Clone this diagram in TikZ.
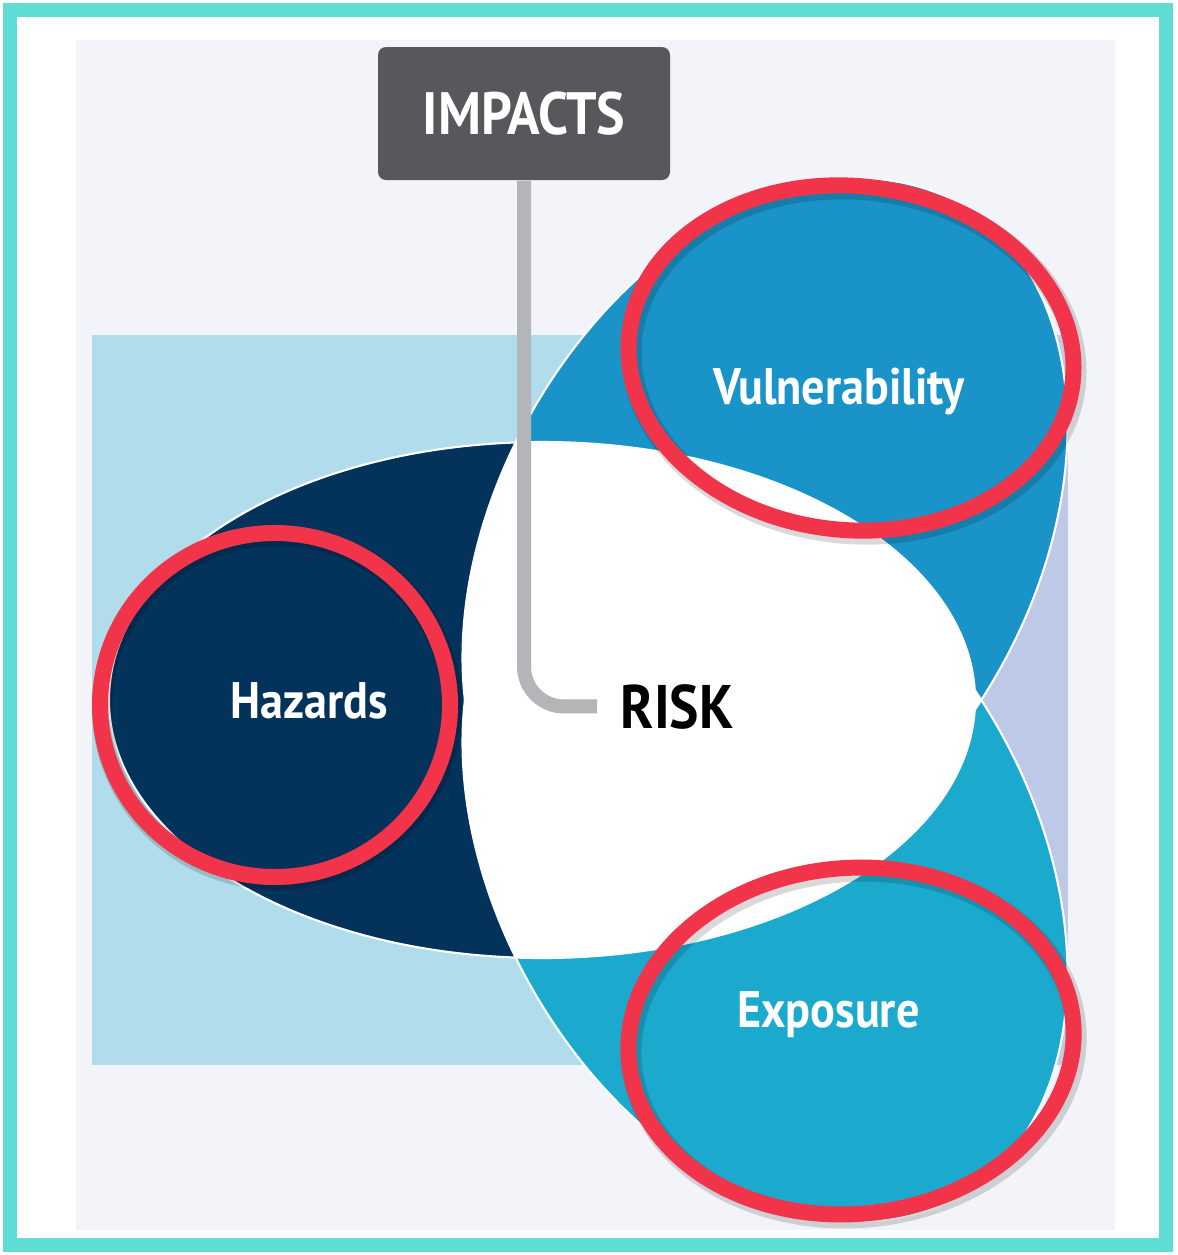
\documentclass[tikz,border=0pt]{standalone}
\usepackage{fontspec}
\newfontfamily\diagfont{PT Sans}[FakeStretch=0.9]
\usetikzlibrary{positioning}
\definecolor{framec}{RGB}{93,221,211}
\definecolor{panelc}{RGB}{242,244,249}
\definecolor{climc}{RGB}{176,220,235}
\definecolor{socioc}{RGB}{189,201,230}
\definecolor{hazc}{RGB}{3,50,90}
\definecolor{vulc}{RGB}{26,147,200}
\definecolor{expc}{RGB}{27,170,205}
\definecolor{ringred}{RGB}{242,52,74}
\definecolor{boxgray}{RGB}{88,88,92}
\definecolor{linkgray}{RGB}{180,181,184}
\tikzset{
    ring/.style={draw=ringred, line width=0.16cm},
    ringshadow/.style={draw=black, opacity=0.15, line width=0.2cm},
    rim/.style={draw=white, line width=0.6pt},
    lbl/.style={text=white, inner sep=0, font=\diagfont\bfseries\fontsize{14.6}{17}\selectfont},
    link/.style={draw=linkgray, line width=0.14cm, rounded corners=0.4cm},
    impactbox/.style={fill=boxgray, rounded corners=0.08cm, minimum width=2.92cm, minimum height=1.33cm,
        text=white, font=\diagfont\bfseries\fontsize{17}{20}\selectfont},
    vulshape/.style={rotate around={60:(7.65,-5.42)}},
    expshape/.style={rotate around={-60:(7.65,-8.58)}}
}
\newcommand{\hazpath}{(5.42,-7.00) ellipse [x radius=4.33, y radius=2.58]}
\newcommand{\vulpath}{(7.65,-5.42) ellipse [x radius=3.90, y radius=2.67]}
\newcommand{\exppath}{(7.65,-8.58) ellipse [x radius=3.90, y radius=2.67]}

\begin{document}
\begin{tikzpicture}
    \useasboundingbox (0,0) rectangle (11.78,-12.55);
    \fill[white] (0,0) rectangle (11.78,-12.55);
    \draw[framec, line width=0.14cm] (0.095,-0.10) rectangle (11.655,-12.445);
    \fill[panelc] (0.76,-0.40) rectangle (11.15,-12.30);

    % climate and socio-economic backdrops
    \fill[climc] (0.92,-3.35) rectangle (8.00,-10.65);
    \fill[socioc] (8.00,-3.35) rectangle (10.68,-10.65);

    % the three ovals
    \fill[hazc] \hazpath;
    \fill[vulc, vulshape] \vulpath;
    \fill[expc, expshape] \exppath;

    % overlaps form the risk area
    \begin{scope}
        \clip \hazpath;
        \fill[white, vulshape] \vulpath;
        \fill[white, expshape] \exppath;
    \end{scope}
    \begin{scope}
        \clip[vulshape] \vulpath;
        \fill[white, expshape] \exppath;
    \end{scope}
    \draw[rim] \hazpath;
    \draw[rim, vulshape] \vulpath;
    \draw[rim, expshape] \exppath;

    % labels
    \node[impactbox] (impacts) at (5.24,-1.135) {IMPACTS};
    \node[inner sep=0, anchor=base west, font=\diagfont\bfseries\fontsize{17.5}{20}\selectfont] (risk) at (6.20,-7.28) {RISK};
    \draw[link] (impacts.south) |- ([xshift=-0.23cm]risk.west);

    \node[lbl, anchor=base] (hazards) at (3.095,-7.18) {Hazards};
    \node[lbl, anchor=base] (vulnerability) at (8.39,-4.04) {Vulnerability};
    \node[lbl, anchor=base] (exposure) at (8.285,-10.27) {Exposure};

    % highlight rings
    \draw[ringshadow] (2.77,-7.08) ellipse [x radius=1.75, y radius=1.72];
    \draw[ringshadow, rotate around={-6:(8.54,-3.62)}] (8.54,-3.62) ellipse [x radius=2.23, y radius=1.72];
    \draw[ringshadow, rotate around={5:(8.54,-10.45)}] (8.54,-10.45) ellipse [x radius=2.23, y radius=1.73];
    \draw[ring] (2.75,-7.05) ellipse [x radius=1.75, y radius=1.72];
    \draw[ring, rotate around={-6:(8.51,-3.58)}] (8.51,-3.58) ellipse [x radius=2.23, y radius=1.72];
    \draw[ring, rotate around={5:(8.51,-10.41)}] (8.51,-10.41) ellipse [x radius=2.23, y radius=1.73];
\end{tikzpicture}
\end{document}
